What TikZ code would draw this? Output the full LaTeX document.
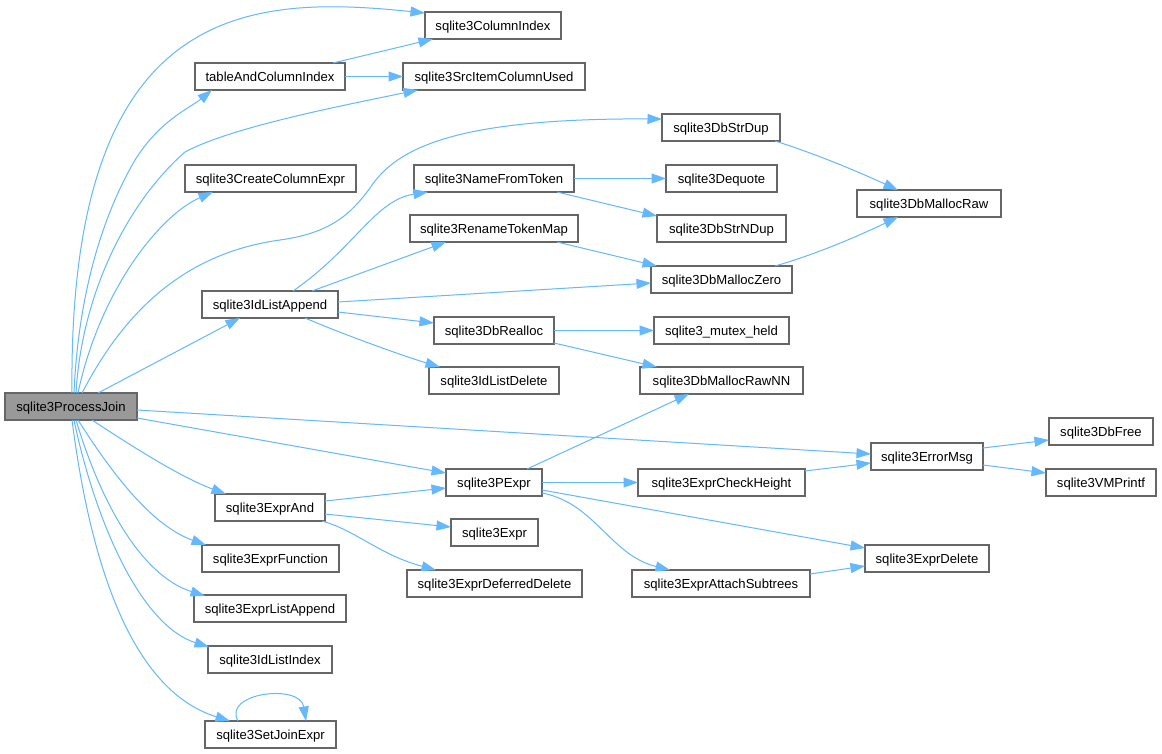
\documentclass[tikz,border=0pt]{standalone}
\usepackage{fontspec}
\setmainfont{Liberation Sans}
\usetikzlibrary{arrows.meta,calc}
\definecolor{edgeblue}{HTML}{63B8FF}
\definecolor{boxborder}{HTML}{666666}
\definecolor{mainfill}{HTML}{999999}
\begin{document}
\begin{tikzpicture}[x=1pt,y=-1pt,
  box/.style={draw=boxborder, line width=1.2pt, fill=white, minimum height=27pt,
    inner sep=0pt, outer sep=0pt, text height=11pt, text depth=2pt,
    font=\fontsize{13.1}{15}\selectfont, text=black},
  edge/.style={draw=edgeblue, line width=1pt, -{Triangle[length=14.5pt,width=10pt]}}]
\fill[white] (0,0) rectangle (1162,753);
\useasboundingbox (0,0) rectangle (1162,753);

% nodes
\node[box, minimum width=132pt, fill=mainfill] (pj) at (71,406.5) {sqlite3ProcessJoin};
\node[box, minimum width=136pt] (colidx) at (493,25.5) {sqlite3ColumnIndex};
\node[box, minimum width=150pt] (tci) at (270,76.5) {tableAndColumnIndex};
\node[box, minimum width=182pt] (srcitem) at (494,76.5) {sqlite3SrcItemColumnUsed};
\node[box, minimum width=171pt] (cce) at (270.5,178.5) {sqlite3CreateColumnExpr};
\node[box, minimum width=118pt] (dbstrdup) at (721,127.5) {sqlite3DbStrDup};
\node[box, minimum width=160pt] (nft) at (494,178.5) {sqlite3NameFromToken};
\node[box, minimum width=111pt] (dequote) at (721.5,178.5) {sqlite3Dequote};
\node[box, minimum width=144pt] (mallocraw) at (929,203.5) {sqlite3DbMallocRaw};
\node[box, minimum width=129pt] (strndup) at (721.5,228.5) {sqlite3DbStrNDup};
\node[box, minimum width=168pt] (rtm) at (494,228.5) {sqlite3RenameTokenMap};
\node[box, minimum width=141pt] (malloczero) at (721.5,279.5) {sqlite3DbMallocZero};
\node[box, minimum width=136pt] (ia) at (270,304.5) {sqlite3IdListAppend};
\node[box, minimum width=120pt] (realloc) at (494,330.5) {sqlite3DbRealloc};
\node[box, minimum width=135pt] (mutex) at (721.5,330.5) {sqlite3\_mutex\_held};
\node[box, minimum width=130pt] (iadel) at (494,380.5) {sqlite3IdListDelete};
\node[box, minimum width=163pt] (rawnn) at (721.5,380.5) {sqlite3DbMallocRawNN};
\node[box, minimum width=112pt] (errmsg) at (927,456.5) {sqlite3ErrorMsg};
\node[box, minimum width=104pt] (dbfree) at (1101,431.5) {sqlite3DbFree};
\node[box, minimum width=110pt] (vmprintf) at (1101,482.5) {sqlite3VMPrintf};
\node[box, minimum width=96pt] (pexpr) at (494,482.5) {sqlite3PExpr};
\node[box, minimum width=167pt] (checkh) at (721.5,482.5) {sqlite3ExprCheckHeight};
\node[box, minimum width=110pt] (exprand) at (270,507.5) {sqlite3ExprAnd};
\node[box, minimum width=87pt] (expr) at (494.5,532.5) {sqlite3Expr};
\node[box, minimum width=137pt] (exprfunc) at (270.5,558.5) {sqlite3ExprFunction};
\node[box, minimum width=124pt] (exprdel) at (927,558.5) {sqlite3ExprDelete};
\node[box, minimum width=175pt] (deferred) at (494.5,583.5) {sqlite3ExprDeferredDelete};
\node[box, minimum width=178pt] (attach) at (721,583.5) {sqlite3ExprAttachSubtrees};
\node[box, minimum width=152pt] (listappend) at (270,608.5) {sqlite3ExprListAppend};
\node[box, minimum width=124pt] (idlistindex) at (270,659.5) {sqlite3IdListIndex};
\node[box, minimum width=131pt] (setjoin) at (270.5,734.5) {sqlite3SetJoinExpr};

% edges from sqlite3ProcessJoin
\draw[edge] ($(pj.north west)+(67,0)$) .. controls (68,0) and (250,-5) .. ($(colidx.north west)+(0,1)$);
\draw[edge] ($(pj.north west)+(69,0)$) .. controls (78,300) and (100,220) .. (135,160)
  .. controls (160,120) and (190,108) .. ($(tci.north west)+(17,27)$);
\draw[edge] ($(pj.north west)+(71,0)$) .. controls (82,290) and (130,200) .. (185,152)
  .. controls (230,128) and (330,108) .. ($(srcitem.north west)+(15,27)$);
\draw[edge] ($(pj.north west)+(73,0)$) .. controls (100,290) and (160,215) .. ($(cce.north west)+(28,27)$);
\draw[edge] ($(pj.north west)+(77,0)$) .. controls (115,330) and (170,255) .. (280,240)
  .. controls (330,233) and (350,215) .. (370,188)
  .. controls (395,150) and (450,118) .. ($(dbstrdup.north west)+(0,5)$);
\draw[edge] ($(pj.north west)+(93,0)$) -- ($(ia.north west)+(38,27)$);
\draw[edge] ($(pj.north west)+(132,17)$) -- ($(errmsg.north west)+(0,11)$);
\draw[edge] ($(pj.north west)+(132,25)$) -- ($(pexpr.north west)+(0,4)$);
\draw[edge] ($(pj.north west)+(87,27)$) .. controls (130,445) and (180,477) .. ($(exprand.north west)+(11,0)$);
\draw[edge] ($(pj.north west)+(73,27)$) .. controls (110,470) and (150,525) .. ($(exprfunc.north west)+(4,0)$);
\draw[edge] ($(pj.north west)+(71,27)$) .. controls (100,500) and (140,575) .. ($(listappend.north west)+(11,1)$);
\draw[edge] ($(pj.north west)+(69,27)$) .. controls (95,520) and (140,625) .. ($(idlistindex.north west)+(1,1)$);
\draw[edge] ($(pj.north west)+(67,27)$) .. controls (90,560) and (130,690) .. ($(setjoin.north west)+(25,0)$);

% tableAndColumnIndex
\draw[edge] ($(tci.north west)+(138,0)$) -- ($(colidx.north west)+(8,27)$);
\draw[edge] (tci.east) -- (srcitem.west);

% sqlite3IdListAppend
\draw[edge] ($(ia.north west)+(91,0)$) .. controls (355,248) and (375,200) .. ($(nft.north west)+(14,27)$);
\draw[edge] ($(ia.north west)+(110,0)$) -- ($(rtm.north west)+(36,27)$);
\draw[edge] ($(ia.north west)+(136,11)$) -- ($(malloczero.north west)+(0,17)$);
\draw[edge] ($(ia.north west)+(136,21)$) -- ($(realloc.north west)+(0,6)$);
\draw[edge] ($(ia.north west)+(103,27)$) .. controls (340,333) and (400,355) .. ($(iadel.north west)+(11,0)$);

% second level
\draw[edge] (nft.east) -- (dequote.west);
\draw[edge] ($(nft.north west)+(143,27)$) -- ($(strndup.north west)+(0,1)$);
\draw[edge] ($(rtm.north west)+(147,27)$) -- ($(malloczero.north west)+(6,0)$);
\draw[edge] ($(dbstrdup.north west)+(113,27)$) .. controls (810,152) and (850,168) .. ($(mallocraw.north west)+(41,0)$);
\draw[edge] ($(malloczero.north west)+(124,0)$) .. controls (810,256) and (850,240) .. ($(mallocraw.north west)+(41,27)$);
\draw[edge] (realloc.east) -- (mutex.west);
\draw[edge] ($(realloc.north west)+(120,26)$) -- ($(rawnn.north west)+(17,0)$);

% sqlite3PExpr
\draw[edge] ($(pexpr.north west)+(81,0)$) -- ($(rawnn.north west)+(49,27)$);
\draw[edge] (pexpr.east) -- (checkh.west);
\draw[edge] ($(pexpr.north west)+(96,21)$) -- ($(exprdel.north west)+(0,3)$);
\draw[edge] ($(pexpr.north west)+(96,24)$) .. controls (595,503) and (610,555) .. ($(attach.north west)+(38,0)$);

% right side
\draw[edge] ($(checkh.north west)+(167,2)$) -- ($(errmsg.north west)+(0,20)$);
\draw[edge] ($(errmsg.north west)+(112,5)$) -- ($(dbfree.north west)+(0,22)$);
\draw[edge] ($(errmsg.north west)+(112,22)$) -- ($(vmprintf.north west)+(0,4)$);
\draw[edge] ($(attach.north west)+(178,4)$) -- ($(exprdel.north west)+(0,21)$);

% sqlite3ExprAnd
\draw[edge] ($(exprand.north west)+(110,7)$) -- ($(pexpr.north west)+(0,19)$);
\draw[edge] ($(exprand.north west)+(110,20)$) -- ($(expr.north west)+(0,8)$);
\draw[edge] ($(exprand.north west)+(107,27)$) .. controls (355,530) and (380,555) .. ($(deferred.north west)+(29,0)$);

% self loop
\draw[edge] ($(setjoin.north west)+(33,0)$) .. controls (222,693) and (300,683) .. ($(setjoin.north west)+(101,0)$);
\end{tikzpicture}
\end{document}
